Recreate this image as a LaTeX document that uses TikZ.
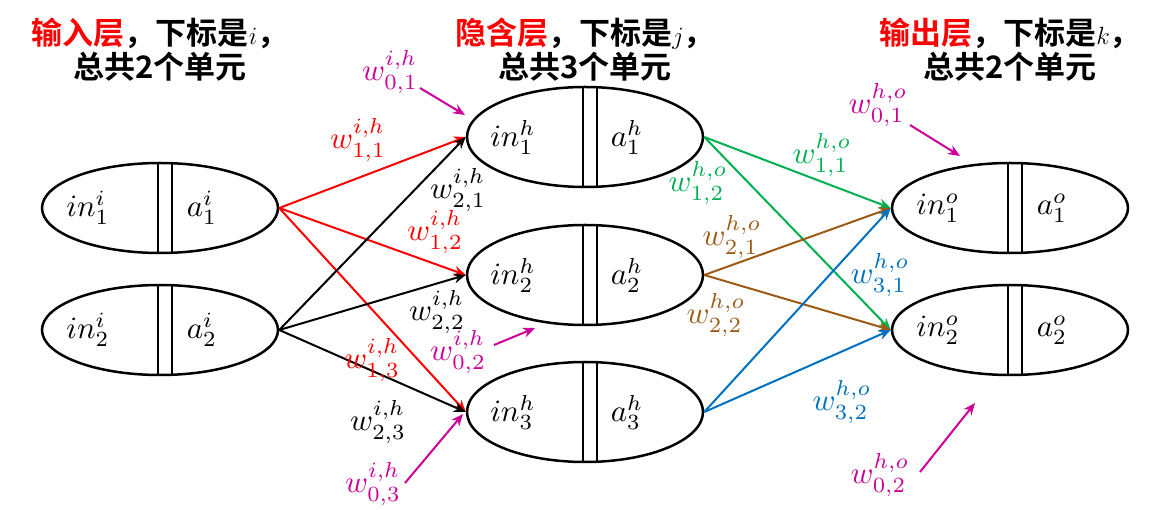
\documentclass[tikz,border=0pt]{standalone}
\usepackage{fontspec}
\usepackage{graphicx}
\newfontfamily\cjk{Noto Sans CJK SC Bold}
\usetikzlibrary{arrows.meta,shapes.geometric}
\definecolor{wred}{HTML}{FF0000}
\definecolor{wgreen}{HTML}{00B050}
\definecolor{wbrown}{HTML}{9C5A14}
\definecolor{wblue}{HTML}{0070C0}
\definecolor{wmag}{HTML}{CC0099}
\newcommand{\mylbl}[1]{\scalebox{3.1}{$#1$}}
\begin{document}
\begin{tikzpicture}[x=1pt,y=-1pt,
  edge/.style={line width=2pt,-{Stealth[length=12pt,width=10pt]}},
  lab/.style={inner sep=0pt},
  ttl/.style={font=\cjk\fontsize{31}{34}\selectfont,align=center}]
\useasboundingbox (0,0) rectangle (1176,510);
% units
\foreach \n/\x/\y/\h/\a/\b in {i1/160/208/90/in^i_1/a^i_1, i2/160/330/90/in^i_2/a^i_2,
  h1/585/137/100/in^h_1/a^h_1, h2/585/275/100/in^h_2/a^h_2, h3/585/412/100/in^h_3/a^h_3,
  o1/1010/208/90/in^o_1/a^o_1, o2/1010/330/90/in^o_2/a^o_2}{
  \node[draw,line width=2.5pt,ellipse,minimum width=236pt,minimum height=\h pt,inner sep=0pt] (\n) at (\x,\y) {};
  \draw[line width=2.5pt] ([xshift=-2pt]\n.north) -- ([xshift=-2pt]\n.south);
  \draw[line width=2.5pt] ([xshift=12pt]\n.north) -- ([xshift=12pt]\n.south);
  \node[lab] (\n t) at ([xshift=-72pt]\n.center) {\mylbl{\a}};
  \node[lab] (\n u) at ([xshift=42pt]\n.center) {\mylbl{\b}};
}
% edges input->hidden
\draw[edge,wred] (i1.east) -- (h1.west);
\draw[edge,wred] (i1.east) -- (h2.west);
\draw[edge,wred] (i1.east) -- (h3.west);
\draw[edge,black] (i2.east) -- (h1.west);
\draw[edge,black] (i2.east) -- (h2.west);
\draw[edge,black] (i2.east) -- (h3.west);
% hidden->output
\draw[edge,wgreen] (h1.east) -- (o1.west);
\draw[edge,wgreen] (h1.east) -- (o2.west);
\draw[edge,wbrown] (h2.east) -- (o1.west);
\draw[edge,wbrown] (h2.east) -- (o2.west);
\draw[edge,wblue] (h3.east) -- (o1.west);
\draw[edge,wblue] (h3.east) -- (o2.west);
% weight labels
\node[lab,wred] at (358,140) {\mylbl{w^{i,h}_{1,1}}};
\node[lab] at (458,190) {\mylbl{w^{i,h}_{2,1}}};
\node[lab,wred] at (435,232) {\mylbl{w^{i,h}_{1,2}}};
\node[lab] at (437,312) {\mylbl{w^{i,h}_{2,2}}};
\node[lab,wred] at (372,360) {\mylbl{w^{i,h}_{1,3}}};
\node[lab] at (378,422) {\mylbl{w^{i,h}_{2,3}}};
\node[lab,wgreen] at (822,155) {\mylbl{w^{h,o}_{1,1}}};
\node[lab,wgreen] at (698,183) {\mylbl{w^{h,o}_{1,2}}};
\node[lab,wbrown] at (732,237) {\mylbl{w^{h,o}_{2,1}}};
\node[lab,wbrown] at (716,315) {\mylbl{w^{h,o}_{2,2}}};
\node[lab,wblue] at (880,275) {\mylbl{w^{h,o}_{3,1}}};
\node[lab,wblue] at (842,402) {\mylbl{w^{h,o}_{3,2}}};
% biases
\node[lab,wmag] (b1) at (390,72) {\mylbl{w^{i,h}_{0,1}}};
\draw[edge,wmag] (420,88) -- (465,115);
\node[lab,wmag] (b2) at (458,352) {\mylbl{w^{i,h}_{0,2}}};
\draw[edge,wmag] (494,345) -- (535,328);
\node[lab,wmag] (b3) at (373,484) {\mylbl{w^{i,h}_{0,3}}};
\draw[edge,wmag] (405,483) -- (463,414);
\node[lab,wmag] (c1) at (878,105) {\mylbl{w^{h,o}_{0,1}}};
\draw[edge,wmag] (910,125) -- (960,156);
\node[lab,wmag] (c2) at (880,475) {\mylbl{w^{h,o}_{0,2}}};
\draw[edge,wmag] (920,472) -- (975,403);
% titles
\node[ttl] at (160,50) {\textcolor{wred}{输入层}，下标是$i$，\\总共2个单元};
\node[ttl] at (585,50) {\textcolor{wred}{隐含层}，下标是$j$，\\总共3个单元};
\node[ttl] at (1010,50) {\textcolor{wred}{输出层}，下标是$k$，\\总共2个单元};
\end{tikzpicture}
\end{document}
